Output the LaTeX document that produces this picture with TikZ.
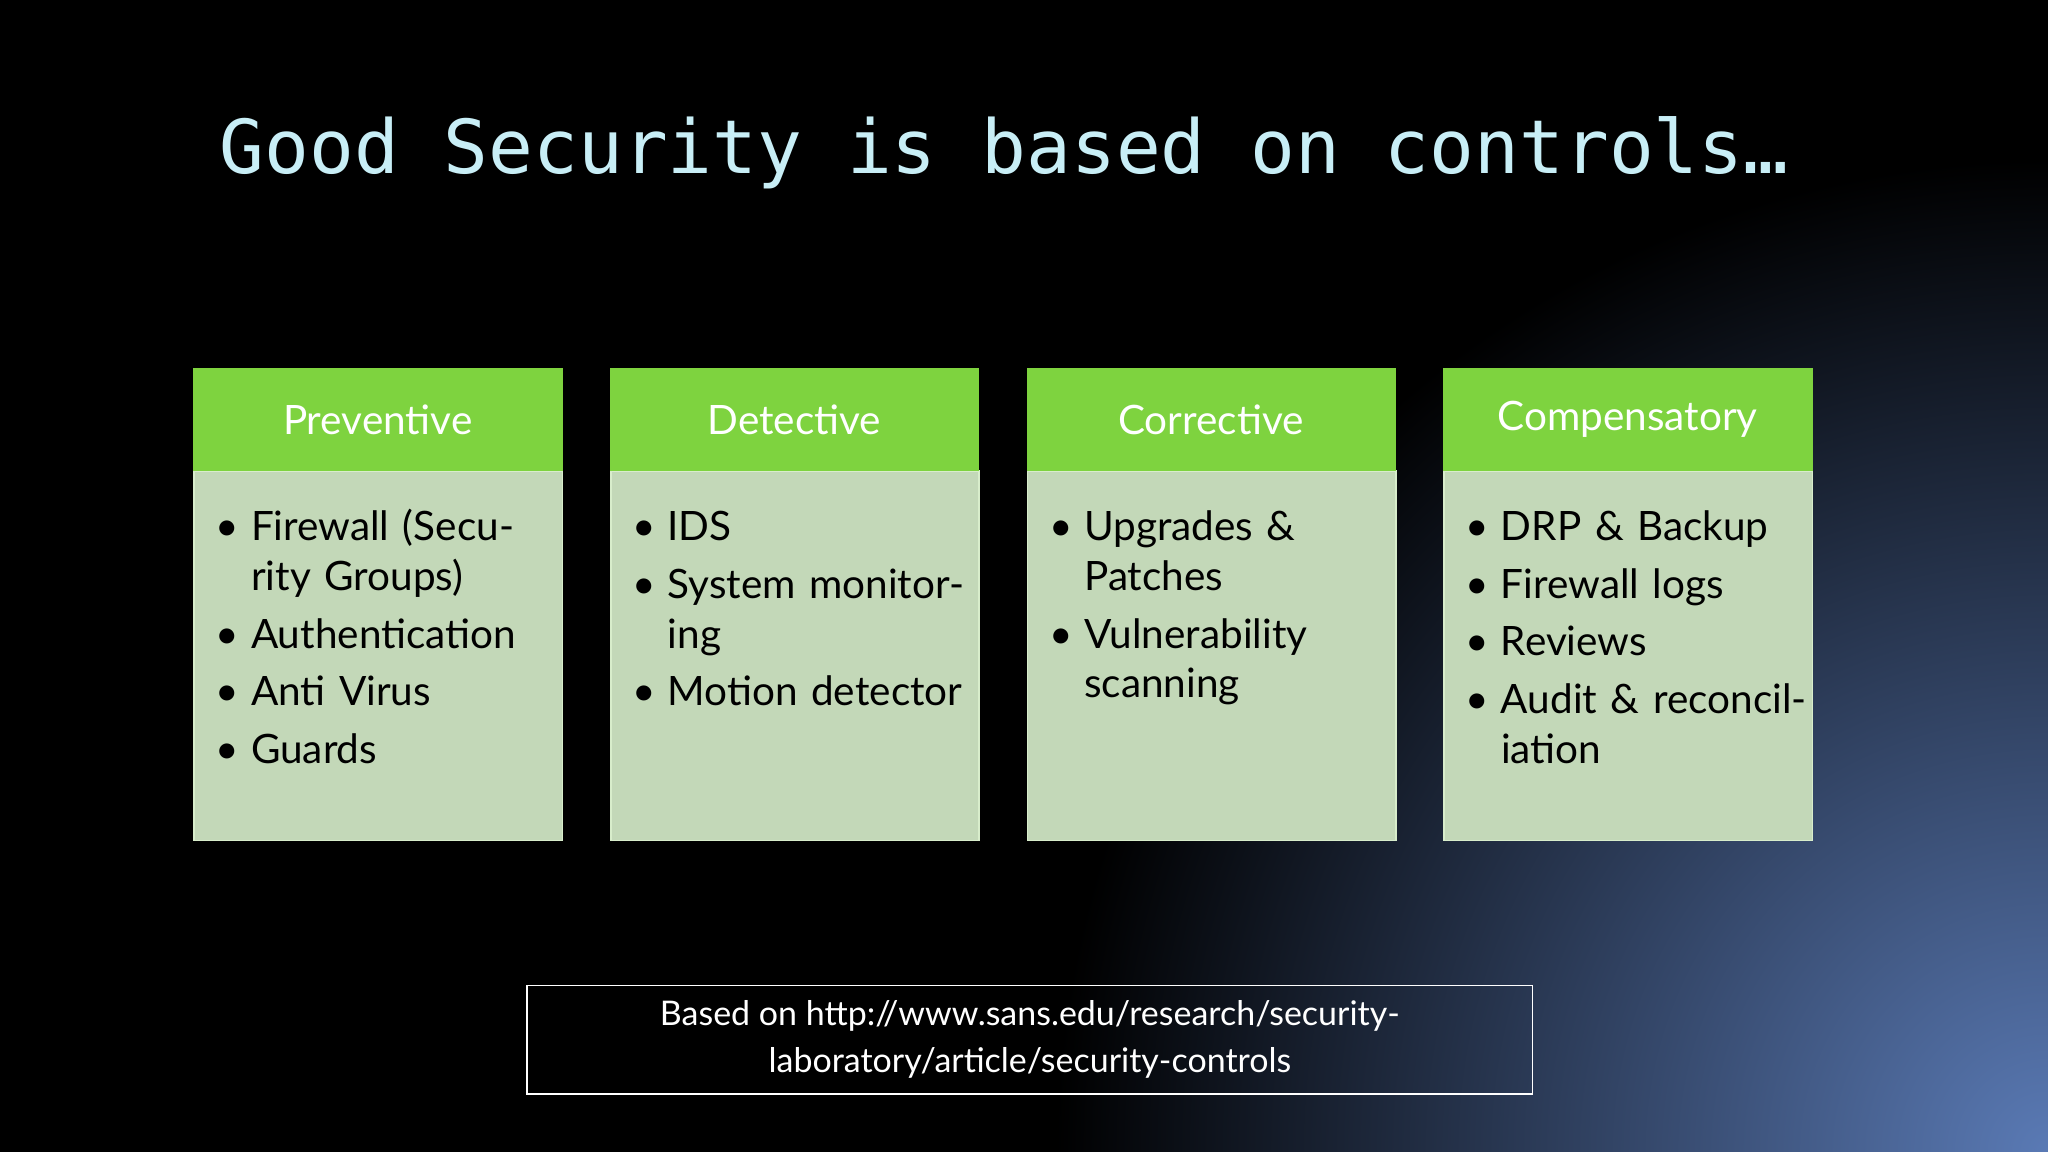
\documentclass[tikz,border=0pt]{standalone}
\usepackage{fontspec}
\setmainfont{Lato}
\newfontfamily\monof{DejaVu Sans Mono}
\definecolor{hdr}{HTML}{7ED33F}
\definecolor{bdy}{HTML}{C3D8B8}
\definecolor{bdr}{HTML}{D8EDCB}
\definecolor{ttl}{HTML}{C8EEF6}
\definecolor{bl}{HTML}{5A7AB5}
\tikzset{
 hbox/.style={fill=hdr,draw=hdr,minimum width=282pt,minimum height=78pt,anchor=north west,inner sep=0pt,text=white,font=\fontsize{31}{36}\selectfont},
 bbox/.style={fill=bdy,draw=bdr,line width=1.2pt,minimum width=282pt,minimum height=283pt,anchor=north west,inner sep=0pt},
 btxt/.style={anchor=north west,inner sep=0pt,text width=262pt,align=left,font=\fontsize{31}{38}\selectfont}
}
\newcommand{\itm}[1]{\par\hangindent=27pt\hangafter=1\noindent\makebox[27pt][l]{\textbullet}#1\par\vspace{6pt}}
\begin{document}
\begin{tikzpicture}[x=1pt,y=1pt]
\useasboundingbox (0,0) rectangle (1568,-882);
\fill[black] (0,0) rectangle (1568,-882);
\begin{scope}
\clip (0,0) rectangle (1568,-882);
\shade[inner color=bl,outer color=black] (1568,-882) circle (760);
\end{scope}
\node[text=ttl,font=\monof\fontsize{57}{60}\selectfont,anchor=base west,inner sep=0pt] (title) at (168,-133) {Good Security is based on controls…};
\foreach \n/\x/\h in {a/148/Preventive,b/467/Detective,c/786/Corrective,d/1105/Compensatory}{
 \node[bbox] (\n b) at (\x,-360) {};
 \node[hbox] (\n h) at (\x,-282) {\h};
}
\node[btxt] (at) at (165,-376) {\itm{Firewall (Security Groups)}\itm{Authentication}\itm{Anti Virus}\itm{Guards}};
\node[btxt] (bt) at (484,-376) {\itm{IDS}\itm{System monitoring}\itm{Motion detector}};
\node[btxt] (ct) at (803,-376) {\itm{Upgrades \& Patches}\itm{Vulnerability scanning}};
\node[btxt] (dt) at (1122,-376) {\itm{DRP \& Backup}\itm{Firewall logs}\itm{Reviews}\itm{Audit \& reconciliation}};
\node[draw=white,line width=1pt,minimum width=770pt,minimum height=83pt,anchor=north west,inner sep=0pt] (src) at (403,-754) {};
\node[text=white,align=center,font=\fontsize{26}{36}\selectfont] (srct) at (src.center) {Based on http://www.sans.edu/research/security-\\laboratory/article/security-controls};
\end{tikzpicture}
\end{document}
